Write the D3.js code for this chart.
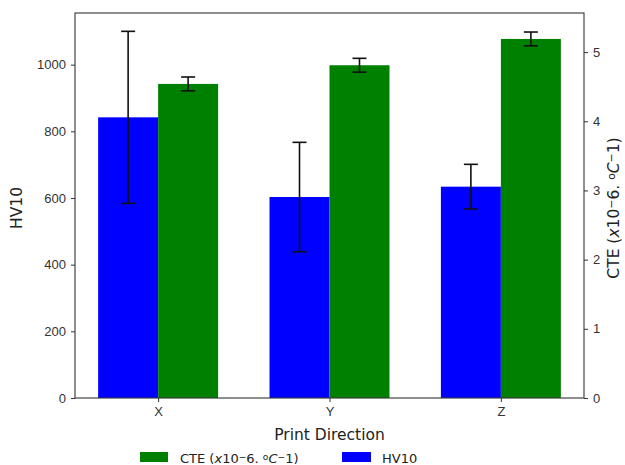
<!DOCTYPE html>
<html>
<head>
<meta charset="utf-8">
<script src="https://cdn.jsdelivr.net/npm/d3@7"></script>
<style>
  body { margin: 0; background: #fff; }
  svg { font-family: "DejaVu Sans", sans-serif; }
  .tick text { fill: #333; }
</style>
</head>
<body>
<div id="chart"></div>
<script>
const directions = ["X", "Y", "Z"];
const hv10 = [842, 603, 634];
const hv10Err = [258, 164, 67];
const cte = [4.54, 4.81, 5.19];
const cteErr = [0.1, 0.1, 0.1];
const hvTicks = [0, 200, 400, 600, 800, 1000];
const cteTicks = [0, 1, 2, 3, 4, 5];

const width = 625, height = 465;
const plot = { left: 75, right: 584, top: 13, bottom: 398 };
const barW = 0.35;

const svg = d3.select("#chart")
  .append("svg")
  .attr("width", width)
  .attr("height", height);

const x = d3.scaleLinear()
  .domain([-0.485, 2.485])
  .range([plot.left, plot.right]);
const yHv = d3.scaleLinear()
  .domain([0, 1155])
  .range([plot.bottom, plot.top]);
const yCte = d3.scaleLinear()
  .domain([0, 5.565])
  .range([plot.bottom, plot.top]);

// bars
svg.append("g").selectAll("rect")
  .data(hv10)
  .join("rect")
  .attr("x", (d, i) => x(i - barW))
  .attr("width", x(barW) - x(0))
  .attr("y", d => yHv(d))
  .attr("height", d => yHv(0) - yHv(d))
  .attr("fill", "#0000ff");

svg.append("g").selectAll("rect")
  .data(cte)
  .join("rect")
  .attr("x", (d, i) => x(i))
  .attr("width", x(barW) - x(0))
  .attr("y", d => yCte(d))
  .attr("height", d => yCte(0) - yCte(d))
  .attr("fill", "#008000");

// error bars
function errorBars(vals, errs, y, offset) {
  const g = svg.append("g")
    .attr("stroke", "#111")
    .attr("stroke-width", 1.6);
  vals.forEach((v, i) => {
    const cx = x(i + offset);
    const top = y(v + errs[i]), bot = y(v - errs[i]);
    g.append("line").attr("x1", cx).attr("x2", cx).attr("y1", top).attr("y2", bot);
    g.append("line").attr("x1", cx - 7).attr("x2", cx + 7).attr("y1", top).attr("y2", top);
    g.append("line").attr("x1", cx - 7).attr("x2", cx + 7).attr("y1", bot).attr("y2", bot);
  });
}
errorBars(hv10, hv10Err, yHv, -barW / 2);
errorBars(cte, cteErr, yCte, barW / 2);

// frame
svg.append("rect")
  .attr("x", plot.left).attr("y", plot.top)
  .attr("width", plot.right - plot.left)
  .attr("height", plot.bottom - plot.top)
  .attr("fill", "none")
  .attr("stroke", "#333")
  .attr("stroke-width", 1.1);

// axes
const styleAxis = g => {
  g.select(".domain").remove();
  g.selectAll(".tick line").attr("stroke", "#333");
  g.selectAll(".tick text").attr("font-size", 13);
};

svg.append("g")
  .attr("transform", `translate(${plot.left},0)`)
  .call(d3.axisLeft(yHv).tickValues(hvTicks).tickFormat(d3.format("d")).tickSize(4).tickPadding(5))
  .call(styleAxis);

svg.append("g")
  .attr("transform", `translate(${plot.right},0)`)
  .call(d3.axisRight(yCte).tickValues(cteTicks).tickFormat(d3.format("d")).tickSize(4).tickPadding(5))
  .call(styleAxis);

svg.append("g")
  .attr("transform", `translate(0,${plot.bottom})`)
  .call(d3.axisBottom(x).tickValues([0, 1, 2]).tickFormat(i => directions[i]).tickSize(4).tickPadding(5))
  .call(styleAxis);

// axis labels
svg.append("text")
  .attr("transform", "translate(22,208) rotate(-90)")
  .attr("text-anchor", "middle")
  .attr("font-size", 15.5)
  .attr("fill", "#222")
  .text("HV10");

svg.append("text")
  .attr("x", (plot.left + plot.right) / 2)
  .attr("y", 440)
  .attr("text-anchor", "middle")
  .attr("font-size", 15.5)
  .attr("fill", "#222")
  .text("Print Direction");

function cteLabel(sel) {
  sel.append("tspan").text("CTE (");
  sel.append("tspan").attr("font-style", "italic").text("x");
  sel.append("tspan").text("10");
  sel.append("tspan").attr("font-size", "0.7em").attr("dy", "-0.35em").text("\u2212");
  sel.append("tspan").attr("dy", "0.25em").text("6. ");
  sel.append("tspan").attr("font-size", "0.7em").attr("dy", "-0.35em").text("o");
  sel.append("tspan").attr("font-style", "italic").attr("dy", "0.25em").text("C");
  sel.append("tspan").attr("font-size", "0.7em").attr("dy", "-0.35em").text("\u2212");
  sel.append("tspan").attr("dy", "0.25em").text("1)");
}

svg.append("text")
  .attr("transform", "translate(619,208) rotate(-90)")
  .attr("text-anchor", "middle")
  .attr("font-size", 15.5)
  .attr("fill", "#222")
  .call(cteLabel);

// legend
const legend = svg.append("g");
legend.append("rect").attr("x", 140).attr("y", 452).attr("width", 28).attr("height", 10).attr("fill", "#008000");
legend.append("text").attr("x", 180).attr("y", 463).attr("font-size", 13).attr("fill", "#222").call(cteLabel);
legend.append("rect").attr("x", 342).attr("y", 452).attr("width", 29).attr("height", 10).attr("fill", "#0000ff");
legend.append("text").attr("x", 382).attr("y", 463).attr("font-size", 13).attr("fill", "#222").text("HV10");
</script>
</body>
</html>
